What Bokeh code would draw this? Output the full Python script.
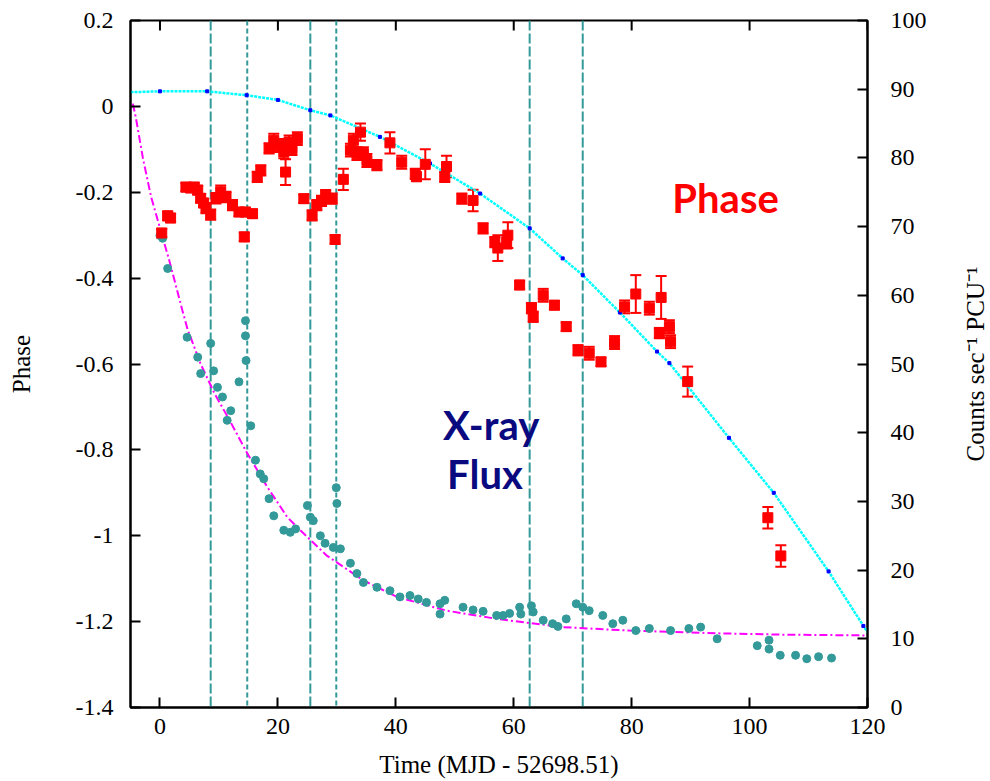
import math
from bokeh.plotting import figure
from bokeh.layouts import row
from bokeh.models import (Range1d, LinearAxis, FixedTicker, CustomJSTickFormatter,
                          Span, Label, Whisker, TeeHead, ColumnDataSource)
from bokeh.core.properties import value
from bokeh.embed import file_html
from bokeh.resources import INLINE

# ---------------- data ----------------
x_ticks = [0, 20, 40, 60, 80, 100, 120]
phase_ticks = [-1.4, -1.2, -1.0, -0.8, -0.6, -0.4, -0.2, 0.0, 0.2]
count_ticks = [0, 10, 20, 30, 40, 50, 60, 70, 80, 90, 100]

# vertical dashed markers (days)
vline_long = [8.6, 25.5, 62.7, 71.7]
vline_short = [14.8, 29.9]

# phase measurements
phase_t = [0.3, 1.3, 1.8, 4.4, 5.2, 5.8, 6.4, 6.9, 7.4, 7.8, 8.6, 9.5, 10.3, 11.2,
           12.3, 13.4, 14.3, 14.5, 15.7, 16.5, 17.1, 18.5, 19.3, 20.2, 21.0, 21.3,
           21.9, 22.4, 23.3, 24.4, 25.8, 26.6, 27.4, 28.1, 29.2, 29.7, 31.1, 32.3,
           32.8, 33.4, 34.0, 34.5, 35.1, 36.8, 39.0, 41.0, 43.3, 43.5, 45.0, 48.3,
           48.6, 51.2, 53.1, 54.8, 56.8, 57.3, 58.8, 59.0, 61.0, 63.0, 63.3, 65.0,
           66.9, 68.9, 70.9, 72.8, 74.8, 77.1, 78.8, 80.7, 83.0, 85.0, 84.7, 86.4,
           86.6, 89.5, 103.1, 105.3]
phase_v = [-0.295, -0.255, -0.26, -0.188, -0.19, -0.188, -0.195, -0.214, -0.225, -0.237,
           -0.252, -0.214, -0.199, -0.211, -0.23, -0.246, -0.304, -0.246, -0.25, -0.164,
           -0.149, -0.098, -0.079, -0.091, -0.106, -0.153, -0.083, -0.098, -0.075, -0.215,
           -0.254, -0.23, -0.22, -0.207, -0.215, -0.31, -0.17, -0.102, -0.079, -0.11,
           -0.06, -0.11, -0.126, -0.137, -0.085, -0.13, -0.157, -0.164, -0.135, -0.164,
           -0.14, -0.215, -0.219, -0.284, -0.316, -0.33, -0.316, -0.3, -0.416, -0.47,
           -0.49, -0.44, -0.463, -0.513, -0.568, -0.575, -0.595, -0.55, -0.467, -0.437,
           -0.47, -0.445, -0.528, -0.513, -0.548, -0.641, -0.958, -1.047]
phase_err = [0.01, 0.01, 0.01, 0.01, 0.01, 0.01, 0.01, 0.01, 0.01, 0.012,
             0.012, 0.012, 0.015, 0.012, 0.012, 0.01, 0.01, 0.01, 0.01, 0.012,
             0.012, 0.012, 0.015, 0.015, 0.015, 0.03, 0.015, 0.015, 0.015, 0.01,
             0.012, 0.012, 0.012, 0.012, 0.012, 0.01, 0.025, 0.015, 0.015, 0.015,
             0.02, 0.015, 0.015, 0.012, 0.025, 0.015, 0.012, 0.01, 0.035, 0.012,
             0.025, 0.012, 0.025, 0.012, 0.012, 0.03, 0.015, 0.03, 0.01, 0.012,
             0.012, 0.015, 0.01, 0.01, 0.012, 0.015, 0.01, 0.015, 0.015, 0.044,
             0.015, 0.05, 0.012, 0.015, 0.015, 0.035, 0.025, 0.025]

# X-ray flux (counts / s / PCU)
flux_t = [0.0, 0.45, 1.3, 4.6, 6.4, 6.9, 8.6, 9.1, 9.75, 10.6, 11.4, 12.0, 13.4, 14.5,
          14.5, 14.6, 15.4, 16.2, 17.0, 17.6, 18.5, 19.3, 21.0, 22.1, 23.0, 25.0, 25.5,
          26.0, 27.2, 28.0, 29.4, 29.9, 30.0, 30.6, 32.3, 33.4, 34.5, 36.8, 39.0, 40.7,
          42.4, 43.8, 45.2, 47.5, 47.5, 48.3, 51.4, 53.1, 54.8, 57.1, 58.2, 59.3, 61.0,
          61.2, 63.0, 63.3, 65.0, 66.6, 67.5, 68.9, 70.6, 71.7, 72.8, 75.1, 76.8, 78.5,
          80.7, 83.0, 86.6, 89.7, 91.7, 94.5, 101.3, 103.3, 103.3, 105.2, 107.8, 109.7,
          111.7, 113.9]
flux_v = [68.7, 68.3, 63.9, 53.9, 51.0, 48.6, 53.0, 49.0, 46.6, 45.2, 41.8, 43.2, 47.4, 56.3,
          54.1, 50.5, 41.0, 36.0, 34.0, 33.3, 30.4, 27.9, 25.8, 25.5, 26.0, 29.4, 27.7,
          27.2, 25.0, 23.9, 23.3, 32.0, 29.7, 23.1, 21.0, 19.5, 18.2, 17.5, 17.0, 16.1,
          16.3, 15.8, 15.3, 15.1, 13.6, 15.6, 14.6, 14.2, 14.0, 13.4, 13.4, 13.7, 14.6,
          13.6, 14.8, 13.9, 12.7, 12.2, 11.8, 12.9, 15.1, 14.6, 14.1, 13.4, 12.2, 12.7,
          11.2, 11.5, 11.2, 11.5, 11.7, 10.0, 9.0, 9.8, 8.5, 7.6, 7.6, 7.1,
          7.4, 7.2]

# phase model curve (cyan)
pmodel_t = [-5.0, 0.0, 8.0, 14.7, 20.0, 25.5, 28.9, 37.3, 45.8, 54.3, 62.7, 68.3, 71.7,
            78.0, 84.3, 86.4, 96.5, 104.1, 113.4, 119.3, 120.0]
pmodel_v = [0.033, 0.035, 0.035, 0.026, 0.015, -0.009, -0.021, -0.071, -0.133, -0.203,
            -0.284, -0.354, -0.393, -0.48, -0.571, -0.598, -0.772, -0.90, -1.083, -1.21,
            -1.225]

# flux model curve (magenta)
fmodel_t = [-4.6, -4.1, -2.9, -1.5, -0.4, 1.6, 3.8, 4.7, 6.9, 9.2, 12.0, 14.8, 18.2, 21.6,
            23.8, 28.3, 34.5, 40.2, 48.6, 57.1, 68.3, 79.6, 94.3, 106.0, 118.5, 120.0]
fmodel_v = [87.9, 85.9, 80.0, 74.3, 71.0, 65.0, 57.8, 55.0, 50.0, 45.8, 41.5, 37.0, 32.1,
            27.7, 25.8, 22.1, 18.5, 16.1, 14.1, 12.9, 11.7, 11.2, 10.8, 10.6, 10.5, 10.45]

right_title = "Counts sec\u207b\u00b9 PCU\u207b\u00b9"

# ---------------- styles ----------------
TEAL = "#339999"
RED = "#ff0000"
NAVY = "#0a0a80"
TICK_FONT = "Liberation Serif"

p = figure(width=955, height=781,
           x_range=Range1d(-5, 120), y_range=Range1d(-1.4, 0.2),
           output_backend="svg", toolbar_location=None,
           min_border_left=130, min_border_right=88,
           min_border_top=20, min_border_bottom=74,
           background_fill_color="white", border_fill_color="white")
p.extra_y_ranges = {"counts": Range1d(0, 100)}
p.xgrid.visible = False
p.ygrid.visible = False
p.outline_line_color = "black"
p.outline_line_width = 2


def style_axis(ax, ticks):
    ax.ticker = FixedTicker(ticks=ticks)
    ax.axis_line_width = 2
    ax.axis_line_color = "black"
    ax.major_tick_in = 10
    ax.major_tick_out = 0
    ax.major_tick_line_width = 2
    ax.minor_tick_line_color = None
    ax.major_label_text_font = TICK_FONT
    ax.major_label_text_font_size = "24px"
    ax.major_label_text_color = "black"
    ax.axis_label_text_font = TICK_FONT
    ax.axis_label_text_font_size = "25px"
    ax.axis_label_text_font_style = "normal"
    ax.axis_label_text_color = "black"


# bottom axis
bx = p.below[0]
style_axis(bx, x_ticks)
bx.axis_label = "Time (MJD - 52698.51)"
bx.major_label_standoff = 11
bx.axis_label_standoff = 14

# left axis
ly = p.left[0]
style_axis(ly, phase_ticks)
ly.formatter = CustomJSTickFormatter(
    code="var s = tick.toFixed(1); if (s.slice(-2) === '.0') { s = s.slice(0, -2); } return s;")
ly.axis_label = "Phase"
ly.major_label_standoff = 17
ly.axis_label_standoff = 38

# right axis with ticks
ry = LinearAxis(y_range_name="counts")
style_axis(ry, count_ticks)
ry.major_label_standoff = 23
p.add_layout(ry, "right")

# top-edge ticks (mirrored x ticks, drawn as short vertical dashes clipped by the frame)
p.scatter(x_ticks, [p.y_range.end] * len(x_ticks), marker="dash", angle=math.pi / 2,
          size=20, line_width=2, line_color="black")

# vertical dashed lines
for loc in vline_long:
    p.add_layout(Span(location=loc, dimension="height", line_color=TEAL,
                      line_width=2, line_dash="10 3", level="underlay"))
for loc in vline_short:
    p.add_layout(Span(location=loc, dimension="height", line_color=TEAL,
                      line_width=2, line_dash="5 3", level="underlay"))

# model curves
p.line(pmodel_t, pmodel_v, line_color="#00ffff", line_width=2.5, line_dash="3 1")
p.scatter(pmodel_t[1:-1], pmodel_v[1:-1], marker="square", size=3,
          color="#0000ff")
p.line(fmodel_t, fmodel_v, y_range_name="counts", line_color="#ff00ff",
       line_width=2, line_dash="8 3 2 3")

# flux points
p.scatter(flux_t, flux_v, y_range_name="counts", marker="circle", size=8,
          fill_color=TEAL, line_color=TEAL)

# phase points with error bars
ph_lo = [v - e for v, e in zip(phase_v, phase_err)]
ph_hi = [v + e for v, e in zip(phase_v, phase_err)]
src = ColumnDataSource(dict(t=phase_t, v=phase_v, lo=ph_lo, hi=ph_hi))
p.add_layout(Whisker(source=src, base="t", lower="lo", upper="hi",
                     line_color=RED, line_width=2,
                     upper_head=TeeHead(size=11, line_color=RED, line_width=2),
                     lower_head=TeeHead(size=11, line_color=RED, line_width=2)))
p.scatter("t", "v", source=src, marker="square", size=10, fill_color=RED,
          line_color=RED)

# annotations
p.add_layout(Label(x=86.9, y=-0.214, text="Phase", text_color=RED,
                   text_font="Lato", text_font_size="40px",
                   text_font_style="bold", text_baseline="alphabetic"))
p.add_layout(Label(x=48.0, y=-0.742, text="X-ray", text_color=NAVY,
                   text_font="Lato", text_font_size="40px",
                   text_font_style="bold", text_baseline="alphabetic"))
p.add_layout(Label(x=48.7, y=-0.856, text="Flux", text_color=NAVY,
                   text_font="Lato", text_font_size="40px",
                   text_font_style="bold", text_baseline="alphabetic"))

# right-hand title strip (reads bottom-to-top like the reference)
p2 = figure(width=35, height=781, x_range=Range1d(0, 1), y_range=p.y_range,
            output_backend="svg", toolbar_location=None,
            x_axis_type=None, y_axis_type=None,
            min_border_left=0, min_border_right=0,
            min_border_top=20, min_border_bottom=74,
            background_fill_color="white", border_fill_color="white")
p2.outline_line_color = None
p2.xgrid.visible = False
p2.ygrid.visible = False
mid = (p.y_range.start + p.y_range.end) / 2
p2.text(x=[0.57], y=[mid], text=[right_title], angle=math.pi / 2,
        text_align="center", text_baseline="middle",
        text_font=value(TICK_FONT), text_font_size="25px", text_color="black")

layout = row(p, p2, spacing=0)
open("out.html", "w").write(file_html(layout, INLINE))
